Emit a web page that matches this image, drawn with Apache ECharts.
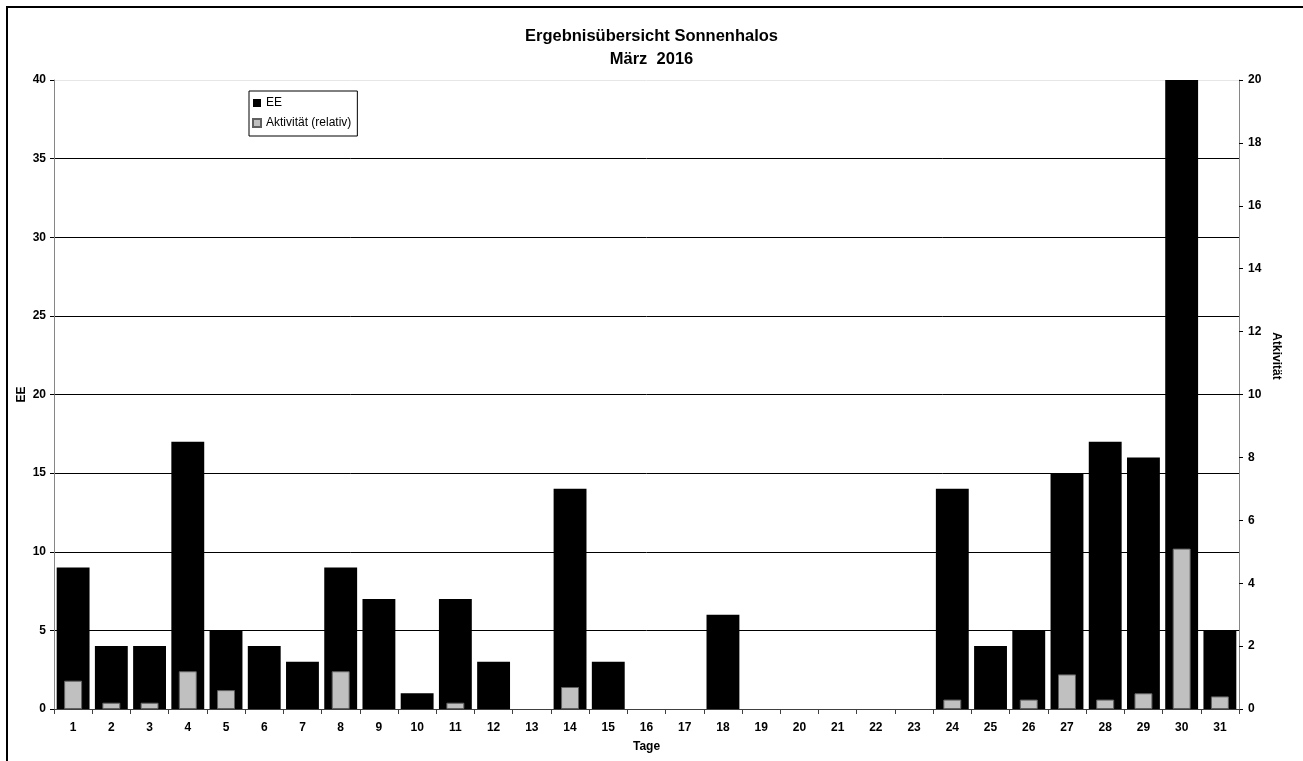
<!DOCTYPE html>
<html>
<head>
<meta charset="utf-8">
<script src="https://cdn.jsdelivr.net/npm/echarts@6/dist/echarts.min.js"></script>
<style>
html,body{margin:0;padding:0;background:#fff;}
#chart{width:1303px;height:761px;}
</style>
</head>
<body>
<div id="chart"></div>
<script>
var days = ['1','2','3','4','5','6','7','8','9','10','11','12','13','14','15','16','17','18','19','20','21','22','23','24','25','26','27','28','29','30','31'];
var eeValues = [9,4,4,17,5,4,3,9,7,1,7,3,0,14,3,0,0,6,0,0,0,0,0,14,4,5,15,17,16,40,5];
var aktivitaet = [0.9,0.2,0.2,1.2,0.6,0,0,1.2,0,0,0.2,0,0,0.7,0,0,0,0,0,0,0,0,0,0.3,0,0.3,1.1,0.3,0.5,5.1,0.4];
var leftTicks = [0,5,10,15,20,25,30,35,40];
var rightTicks = [0,2,4,6,8,10,12,14,16,18,20];

function hideZero(arr) { return arr.map(function (v) { return v === 0 ? '-' : v; }); }

var FONT = 'Liberation Sans, Arial, sans-serif';
var chart = echarts.init(document.getElementById('chart'), null, {renderer:'canvas'});
var option = {
  backgroundColor: '#fff',
  animation: false,
  textStyle: {fontFamily: FONT},
  title: {
    text: 'Ergebnisübersicht Sonnenhalos\nMärz  2016',
    left: 'center',
    top: 20,
    textStyle: {fontFamily: FONT, fontSize: 16.5, fontWeight: 'bold', color: '#000', lineHeight: 23}
  },
  legend: {
    orient: 'vertical',
    left: 249,
    top: 91,
    itemWidth: 8,
    itemHeight: 8,
    itemGap: 6,
    padding: [5, 6, 6, 3],
    borderColor: '#000',
    borderWidth: 1,
    backgroundColor: '#fff',
    borderRadius: 0,
    icon: 'rect',
    textStyle: {fontFamily: FONT, fontSize: 12, color: '#000', lineHeight: 14},
    data: ['EE', 'Aktivität (relativ)']
  },
  grid: {left: 54, right: 64, top: 80, bottom: 52, containLabel: false},
  xAxis: [{
    type: 'category',
    data: days,
    position: 'bottom',
    name: 'Tage',
    nameLocation: 'middle',
    nameGap: 32,
    nameTextStyle: {fontFamily: FONT, fontSize: 12, fontWeight: 'bold', color: '#000'},
    axisLine: {show: true, lineStyle: {color: '#404040', width: 1}},
    axisTick: {show: true, interval: 0, alignWithLabel: false, length: 5, lineStyle: {color: '#404040'}},
    axisLabel: {interval: 0, margin: 13, fontFamily: FONT, fontSize: 12, fontWeight: 'bold', color: '#000'},
    splitLine: {show: false}
  }, {
    type: 'category',
    data: days,
    position: 'bottom',
    show: false
  }],
  yAxis: [{
    type: 'value',
    min: 0,
    max: 40,
    interval: 5,
    position: 'left',
    name: 'EE',
    nameLocation: 'middle',
    nameGap: 26,
    nameMoveOverlap: false,
    nameTextStyle: {fontFamily: FONT, fontSize: 12, fontWeight: 'bold', color: '#000'},
    axisLine: {show: true, lineStyle: {color: '#868686', width: 1}},
    axisTick: {show: true, length: 4, lineStyle: {color: '#000'}},
    axisLabel: {margin: 8, fontFamily: FONT, fontSize: 12, fontWeight: 'bold', color: '#000',
      customValues: leftTicks},
    splitLine: {show: true, lineStyle: {color: ['#000','#000','#000','#000','#000','#000','#000','#000','#e6e6e6'], width: 1}}
  }, {
    type: 'value',
    min: 0,
    max: 20,
    interval: 2,
    position: 'right',
    axisLine: {show: true, lineStyle: {color: '#868686', width: 1}},
    axisTick: {show: true, length: 4, lineStyle: {color: '#000'}},
    axisLabel: {margin: 9, fontFamily: FONT, fontSize: 12, fontWeight: 'bold', color: '#000',
      customValues: rightTicks},
    splitLine: {show: false}
  }],
  series: [{
    name: 'EE',
    type: 'bar',
    xAxisIndex: 0,
    yAxisIndex: 0,
    data: hideZero(eeValues),
    barWidth: '86%',
    itemStyle: {color: '#000'}
  }, {
    name: 'Aktivität (relativ)',
    type: 'bar',
    xAxisIndex: 1,
    yAxisIndex: 1,
    data: hideZero(aktivitaet),
    barWidth: '47%',
    itemStyle: {color: '#c0c0c0', borderColor: '#606060', borderWidth: 1}
  }],
  graphic: [{
    type: 'rect',
    shape: {x: 7, y: 7, width: 1400, height: 900},
    style: {fill: 'none', stroke: '#000', lineWidth: 2},
    silent: true
  }, {
    type: 'text',
    x: 1276,
    y: 356,
    rotation: -Math.PI / 2,
    style: {text: 'Atkivität', fontFamily: FONT, fontSize: 12, fontWeight: 'bold', fill: '#000', align: 'center', verticalAlign: 'middle'},
    silent: true
  }]
};
chart.setOption(option);
</script>
</body>
</html>
